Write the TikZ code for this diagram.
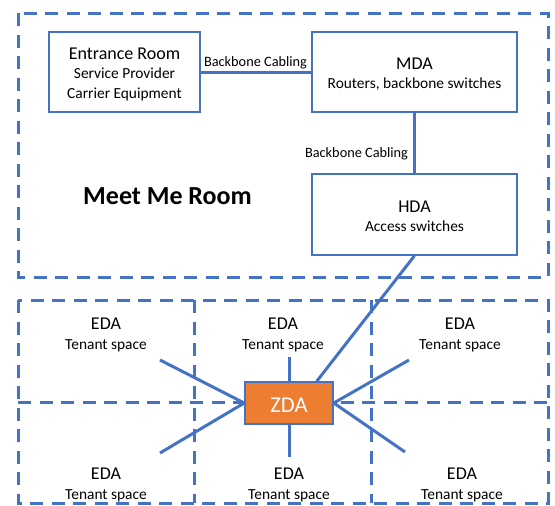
\documentclass[tikz,border=0pt]{standalone}
\usepackage{fontspec}
\setmainfont{Carlito}
\definecolor{cblue}{HTML}{4472C4}
\definecolor{corange}{HTML}{ED7D31}
\tikzset{
  room/.style={draw=cblue, line width=3pt, dash pattern=on 13pt off 8.5pt},
  box/.style={draw=cblue, line width=1.5pt, fill=white, inner sep=0pt},
  boxtext/.style={align=center, inner sep=0pt, font=\fontsize{15.4}{19.5}\selectfont},
  cable/.style={draw=cblue, line width=3pt},
  lbl/.style={font=\fontsize{14.3}{17}\selectfont, inner sep=0pt},
  eda/.style={align=center, inner sep=0pt, font=\fontsize{15.4}{20}\selectfont}
}
\begin{document}
\begin{tikzpicture}[x=1pt,y=-1pt]
\useasboundingbox (0,0) rectangle (555,506);
% rooms
\draw[room] (18,13) rectangle (548,277);
\draw[room] (18,300) rectangle (548,503);
\draw[room] (18,402) -- (548,402);
\draw[room] (194,300) -- (194,503);
\draw[room] (371,300) -- (371,503);
% boxes
\node[box, minimum width=151pt, minimum height=80pt] (ER) at (124.5,72) {};
\node[boxtext] (ERt) at (124.5,74)
  {{\fontsize{18}{19.5}\selectfont Entrance Room}\\Service Provider\\Carrier Equipment};
\node[box, minimum width=205pt, minimum height=80pt] (MDA) at (414.5,72) {};
\node[boxtext] (MDAt) at (414.5,74)
  {{\fontsize{18}{20}\selectfont MDA}\\Routers, backbone switches};
\node[box, minimum width=205pt, minimum height=81pt] (HDA) at (414.5,214.5) {};
\node[boxtext] (HDAt) at (414.5,216.5)
  {{\fontsize{18}{20}\selectfont HDA}\\Access switches};
\node[lbl] (L1) at (255.5,63) {Backbone Cabling};
\node[lbl] (L2) at (356.5,154) {Backbone Cabling};
\node[inner sep=0pt, font=\bfseries\fontsize{26}{30}\selectfont] (MMR) at (167.5,196.5) {Meet Me Room};
% EDA labels
\node[eda] (E1) at (106,335) {{\fontsize{18}{20}\selectfont EDA}\\Tenant space};
\node[eda] (E2) at (283,335) {{\fontsize{18}{20}\selectfont EDA}\\Tenant space};
\node[eda] (E3) at (460,335) {{\fontsize{18}{20}\selectfont EDA}\\Tenant space};
\node[eda] (E4) at (106,485) {{\fontsize{18}{20}\selectfont EDA}\\Tenant space};
\node[eda] (E5) at (289,485) {{\fontsize{18}{20}\selectfont EDA}\\Tenant space};
\node[eda] (E6) at (462,485) {{\fontsize{18}{20}\selectfont EDA}\\Tenant space};
% ZDA
\node[box, fill=corange, minimum width=88pt, minimum height=42pt] (ZDA) at (289,403) {};
\node[inner sep=0pt, text=white, font=\fontsize{22.6}{24}\selectfont] (ZDAt) at (289,405) {ZDA};
% spoke ends
\coordinate (s1) at (160,360);
\coordinate (s2) at (160,453);
\coordinate (s3) at (409,360);
\coordinate (s4) at (405,452);
\coordinate (s5) at (289,357);
\coordinate (s6) at (289,457);
% cables
\draw[cable] (ER.east) -- (MDA.west);
\draw[cable] (MDA.south) -- (HDA.north);
\draw[cable] (HDA.south) -- ([xshift=-17pt]ZDA.north east);
\draw[cable] (ZDA.west) -- (s1);
\draw[cable] (ZDA.west) -- (s2);
\draw[cable] (ZDA.east) -- (s3);
\draw[cable] (ZDA.east) -- (s4);
\draw[cable] (ZDA.north) -- (s5);
\draw[cable] (ZDA.south) -- (s6);
\end{tikzpicture}
\end{document}
